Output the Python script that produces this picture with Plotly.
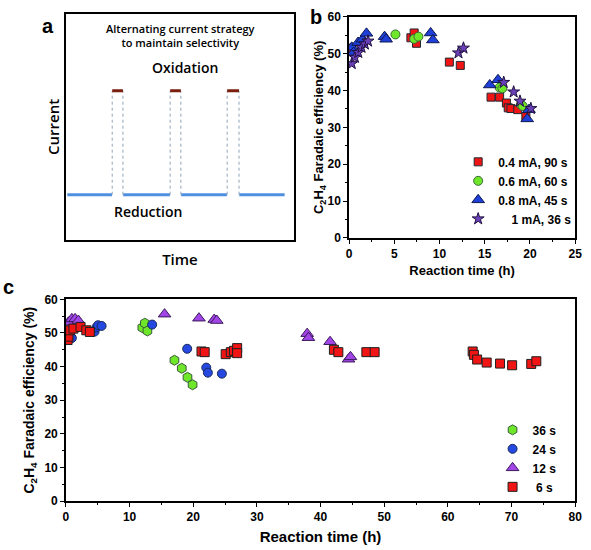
import plotly.graph_objects as go

# ---------------- Panel a (schematic) ----------------
pulse_start = [0.203, 0.457, 0.707]
pulse_end = [0.250, 0.504, 0.759]
trace_start, trace_end = 0.005, 0.960
reduction_level = 0.20
oxidation_level = 0.66

# ---------------- Panel b ----------------
b_red_t = [0.3, 6.84, 7.2, 7.46, 11.09, 12.3, 15.7, 16.65, 17.4, 17.6, 17.9, 18.65, 19.55]
b_red_fe = [51.5, 54.3, 55.6, 52.8, 47.7, 46.8, 38.2, 38.2, 36.6, 35.3, 35.1, 34.8, 32.9]
b_green_t = [5.13, 7.2, 7.67, 16.65, 16.95, 19.0, 19.2]
b_green_fe = [55.2, 54.0, 54.6, 40.8, 40.6, 36.2, 35.8]
b_blue_t = [0.3, 0.5, 1.0, 1.5, 1.93, 3.93, 4.1, 9.02, 9.27, 15.56, 16.47, 19.7, 19.9]
b_blue_fe = [51.7, 50.3, 53.0, 53.9, 55.5, 54.6, 53.9, 55.6, 53.7, 41.5, 42.9, 32.3, 34.8]
b_star_t = [0.3, 0.65, 1.02, 1.38, 1.75, 2.1, 12.1, 12.65, 17.1, 18.2, 18.9, 20.1]
b_star_fe = [47.3, 49.0, 50.3, 51.7, 52.6, 53.4, 50.2, 51.5, 42.2, 39.6, 37.1, 35.1]

# ---------------- Panel c ----------------
c_green_t = [12.0, 12.4, 12.8, 17.05, 18.2, 19.1, 19.9]
c_green_fe = [51.6, 52.9, 50.6, 41.9, 39.5, 36.8, 34.6]
c_blue_t = [0.6, 0.93, 4.5, 4.8, 5.05, 5.6, 13.55, 19.05, 22.05, 22.3, 24.5]
c_blue_fe = [49.5, 48.5, 50.4, 51.7, 52.3, 52.1, 52.5, 45.3, 39.7, 38.2, 37.9]
c_purple_t = [0.4, 0.93, 1.44, 1.96, 15.5, 20.9, 23.3, 23.7, 37.9, 38.1, 41.5, 44.4, 44.7]
c_purple_fe = [53.2, 54.2, 54.2, 53.7, 55.6, 54.4, 54.0, 53.7, 49.8, 48.6, 47.4, 42.2, 42.9]
c_red_t = [0.26, 0.4, 0.67, 1.18, 2.3, 3.2, 3.76, 21.3, 21.8, 25.1, 25.9, 26.4, 26.9, 26.9,
           42.1, 42.8, 47.2, 48.5, 63.9, 64.1, 64.6, 66.1, 68.2, 70.1, 73.1, 73.9]
c_red_fe = [47.9, 48.9, 50.8, 51.3, 51.8, 50.8, 50.3, 44.5, 44.3, 43.7, 44.3, 44.7, 45.5, 44.0,
            45.0, 44.3, 44.3, 44.3, 44.5, 43.5, 42.1, 41.2, 40.9, 40.4, 40.8, 41.6]

FONT = "Liberation Sans"
W, H = 591, 550


def px_x(p):
    return p / W


def px_y(p):
    return 1 - p / H


fig = go.Figure()

# ---- panel a traces ----
bx, by = [], []
segs_start = [trace_start] + pulse_end
segs_end = pulse_start + [trace_end]
for s, e in zip(segs_start, segs_end):
    bx += [s + 0.001, e - 0.001, None]
    by += [reduction_level, reduction_level, None]
fig.add_trace(go.Scatter(x=bx, y=by, mode="lines", line=dict(color="#4f8fe0", width=3),
                         xaxis="x3", yaxis="y3", showlegend=False, hoverinfo="skip"))
dx, dy = [], []
for s, e in zip(pulse_start, pulse_end):
    for v in (s, e):
        dx += [v, v, None]
        dy += [reduction_level, oxidation_level, None]
fig.add_trace(go.Scatter(x=dx, y=dy, mode="lines", line=dict(color="#8fa3b8", width=1, dash="dot"),
                         xaxis="x3", yaxis="y3", showlegend=False, hoverinfo="skip"))
rx, ry = [], []
for s, e in zip(pulse_start, pulse_end):
    rx += [s, e, None]
    ry += [oxidation_level, oxidation_level, None]
fig.add_trace(go.Scatter(x=rx, y=ry, mode="lines", line=dict(color="#7a1e0e", width=3),
                         xaxis="x3", yaxis="y3", showlegend=False, hoverinfo="skip"))

# ---- panel b traces ----
OUT = "#1f2a33"
fig.add_trace(go.Scatter(x=b_red_t, y=b_red_fe, mode="markers", name="0.4 mA, 90 s",
                         marker=dict(symbol="square", size=8, color="#f01414", line=dict(color=OUT, width=1)),
                         xaxis="x", yaxis="y", legend="legend"))
fig.add_trace(go.Scatter(x=b_green_t, y=b_green_fe, mode="markers", name="0.6 mA, 60 s",
                         marker=dict(symbol="circle", size=9, color="#6ee62a", line=dict(color="#3a6a3a", width=1)),
                         xaxis="x", yaxis="y", legend="legend"))
fig.add_trace(go.Scatter(x=b_blue_t, y=b_blue_fe, mode="markers", name="0.8 mA, 45 s",
                         marker=dict(symbol="triangle-up", size=11, color="#1e40d8", line=dict(color="#101850", width=1)),
                         xaxis="x", yaxis="y", legend="legend"))
fig.add_trace(go.Scatter(x=b_star_t, y=b_star_fe, mode="markers", name="\u00a0\u00a0\u00a0\u00a01 mA, 36 s",
                         marker=dict(symbol="star", size=9, color="#6a40b8", line=dict(color="#201040", width=1)),
                         xaxis="x", yaxis="y", legend="legend"))

# ---- panel c traces ----
fig.add_trace(go.Scatter(x=c_green_t, y=c_green_fe, mode="markers", name="36 s",
                         marker=dict(symbol="hexagon", size=10, color="#6ee62a", line=dict(color="#3a5a3a", width=1)),
                         xaxis="x2", yaxis="y2", legend="legend2"))
fig.add_trace(go.Scatter(x=c_blue_t, y=c_blue_fe, mode="markers", name="24 s",
                         marker=dict(symbol="circle", size=9, color="#2448e0", line=dict(color="#1a2a5a", width=1)),
                         xaxis="x2", yaxis="y2", legend="legend2"))
fig.add_trace(go.Scatter(x=c_purple_t, y=c_purple_fe, mode="markers", name="12 s",
                         marker=dict(symbol="triangle-up", size=11, color="#a245e6", line=dict(color="#3a1a5a", width=1)),
                         xaxis="x2", yaxis="y2", legend="legend2"))
fig.add_trace(go.Scatter(x=c_red_t, y=c_red_fe, mode="markers", name="\u00a06 s",
                         marker=dict(symbol="square", size=9, color="#f01414", line=dict(color="#1f1f1f", width=1)),
                         xaxis="x2", yaxis="y2", legend="legend2"))

tickfont = dict(family=FONT, size=12, color="black", weight="bold")
axis_common = dict(showline=True, linecolor="black", linewidth=1.5, mirror=True, ticks="outside",
                   ticklen=4, tickwidth=1.2, tickcolor="black", showgrid=False, zeroline=False,
                   tickfont=tickfont,
                   minor=dict(ticks="outside", ticklen=2, tickwidth=1, tickcolor="black"))

ytitle = "C<sub>2</sub>H<sub>4</sub> Faradaic efficiency (%)"

fig.update_layout(
    width=W, height=H, margin=dict(l=0, r=0, t=0, b=0),
    paper_bgcolor="white", plot_bgcolor="white",
    # panel b
    xaxis=dict(domain=[px_x(352), px_x(582)], range=[0, 25], dtick=5, anchor="y",
               title=dict(text="Reaction time (h)", font=dict(family=FONT, size=13, color="black", weight="bold"), standoff=6),
               minor_dtick=2.5, **axis_common),
    yaxis=dict(domain=[px_y(237), px_y(10)], range=[0, 60], dtick=10, anchor="x",
               title=dict(text=ytitle, font=dict(family=FONT, size=13, color="black", weight="bold"), standoff=1),
               minor_dtick=5, **axis_common),
    # panel c
    xaxis2=dict(domain=[px_x(64), px_x(582)], range=[0, 80], dtick=10, anchor="y2",
                title=dict(text="Reaction time (h)", font=dict(family=FONT, size=15, color="black", weight="bold"), standoff=8),
                minor_dtick=5, **axis_common),
    yaxis2=dict(domain=[px_y(507), px_y(300)], range=[0, 60], dtick=10, anchor="x2",
                title=dict(text=ytitle, font=dict(family=FONT, size=14, color="black", weight="bold"), standoff=6),
                minor_dtick=5, **axis_common),
    # panel a
    xaxis3=dict(domain=[px_x(64), px_x(296)], range=[0, 1], anchor="y3", showline=True, mirror=True,
                linecolor="black", linewidth=2, showticklabels=False, ticks="", showgrid=False, zeroline=False,
                title=dict(text="Time", font=dict(family="Open Sans", size=15, color="black", weight=600), standoff=14)),
    yaxis3=dict(domain=[px_y(239), px_y(7)], range=[0, 1], anchor="x3", showline=True, mirror=True,
                linecolor="black", linewidth=2, showticklabels=False, ticks="", showgrid=False, zeroline=False,
                title=dict(text="Current", font=dict(family="Open Sans", size=15, color="black", weight=600), standoff=1)),
    legend=dict(x=px_x(463), y=px_y(144), xanchor="left", yanchor="top", bgcolor="rgba(0,0,0,0)",
                font=dict(family=FONT, size=12, color="black", weight="bold"), itemwidth=30,
                tracegroupgap=0),
    legend2=dict(x=px_x(498), y=px_y(419), xanchor="left", yanchor="top", bgcolor="rgba(0,0,0,0)",
                 font=dict(family=FONT, size=12, color="black", weight="bold"), itemwidth=30),
    showlegend=True,
)

ann = []
ann.append(dict(text="Alternating current strategy<br>to maintain selectivity", x=0.504, y=0.905,
                xref="x3", yref="y3", xanchor="center", yanchor="middle", showarrow=False,
                font=dict(family="Open Sans", size=11, color="black", weight=600)))
ann.append(dict(text="Oxidation", x=0.52, y=0.763, xref="x3", yref="y3", xanchor="center", yanchor="middle",
                showarrow=False, font=dict(family="Open Sans", size=14, color="black", weight=600)))
ann.append(dict(text="Reduction", x=0.362, y=0.125, xref="x3", yref="y3", xanchor="center", yanchor="middle",
                showarrow=False, font=dict(family="Open Sans", size=14, color="black", weight=600)))
ann.append(dict(text="a", x=px_x(46), y=px_y(19), xref="paper", yref="paper", xanchor="center", yanchor="middle",
                showarrow=False, font=dict(family=FONT, size=20, color="black", weight="bold")))
ann.append(dict(text="b", x=px_x(318), y=px_y(10), xref="paper", yref="paper", xanchor="center", yanchor="middle",
                showarrow=False, font=dict(family=FONT, size=20, color="black", weight="bold")))
ann.append(dict(text="c", x=px_x(6), y=px_y(287), xref="paper", yref="paper", xanchor="center", yanchor="middle",
                showarrow=False, font=dict(family=FONT, size=20, color="black", weight="bold")))
fig.update_layout(annotations=ann)

fig.write_html("out.html", config={"displayModeBar": False},
               post_script="document.body.style.margin='0px';document.body.style.overflow='hidden';")
